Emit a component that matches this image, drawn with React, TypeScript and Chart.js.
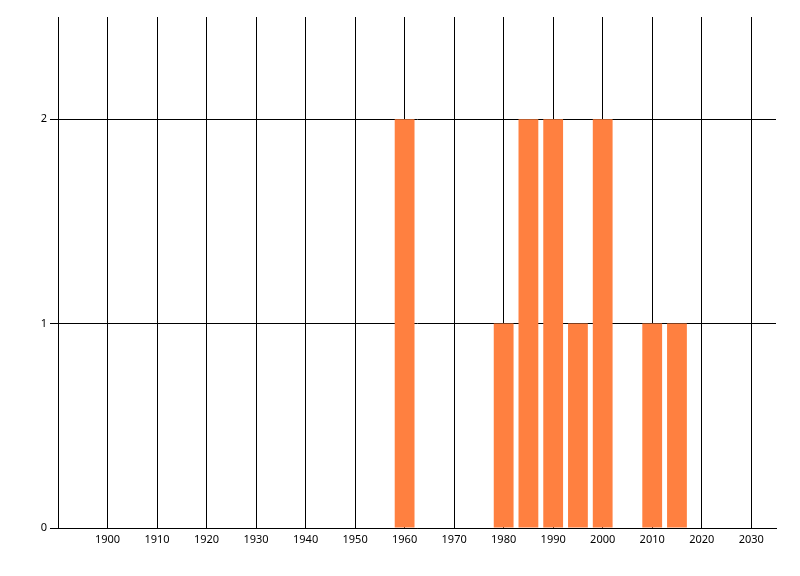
import { useEffect, useRef } from 'react';
import Chart from 'chart.js/auto';

const years = [1960, 1980, 1985, 1990, 1995, 2000, 2010, 2015];
const counts = [2, 1, 2, 2, 1, 2, 1, 1];
const xTicks = [1900, 1910, 1920, 1930, 1940, 1950, 1960, 1970, 1980, 1990, 2000, 2010, 2020, 2030];
const yTicks = [0, 1, 2];

const App = () => {
  const chartRef = useRef<Chart | null>(null);
  const canvasRef = useRef<HTMLCanvasElement | null>(null);

  useEffect(() => {
    if (!canvasRef.current) return;
    if (chartRef.current) chartRef.current.destroy();

    const ctx = canvasRef.current.getContext('2d');
    if (!ctx) return;

    chartRef.current = new Chart(ctx, {
      type: 'bar',
      data: {
        datasets: [
          {
            label: 'Count',
            data: years.map((y, i) => ({ x: y, y: counts[i] })),
            backgroundColor: 'rgb(255, 128, 64)',
            borderWidth: 0,
            barPercentage: 1,
            categoryPercentage: 0.8,
          },
        ],
      },
      options: {
        animation: false,
        responsive: true,
        maintainAspectRatio: false,
        layout: { padding: { left: 0, right: 24, top: 17, bottom: 0 } },
        plugins: {
          legend: { display: false },
          tooltip: { enabled: false },
        },
        scales: {
          x: {
            type: 'linear',
            min: 1890,
            max: 2035,
            offset: false,
            afterBuildTicks: (scale: any) => {
              scale.ticks = xTicks.map((v) => ({ value: v }));
            },
            afterFit: (scale: any) => {
              scale.height = 48;
            },
            grid: {
              offset: false,
              color: '#000',
              lineWidth: 1,
              drawTicks: false,
            },
            border: { display: true, color: '#000', width: 1 },
            ticks: {
              color: '#000',
              padding: 5,
              maxRotation: 0,
              autoSkip: false,
              font: { family: 'Noto Sans', size: 11 },
              callback: (v: any) => String(v),
            },
          },
          y: {
            min: 0,
            max: 2.5,
            afterBuildTicks: (scale: any) => {
              scale.ticks = yTicks.map((v) => ({ value: v }));
            },
            afterFit: (scale: any) => {
              scale.width = 58;
            },
            grid: {
              color: '#000',
              lineWidth: 1,
              drawTicks: true,
              tickLength: 8,
            },
            border: { display: true, color: '#000', width: 1 },
            ticks: {
              color: '#000',
              padding: 3,
              font: { family: 'Noto Sans', size: 11 },
              callback: (v: any) => String(v),
            },
          },
        },
      },
    });

    return () => {
      if (chartRef.current) {
        chartRef.current.destroy();
        chartRef.current = null;
      }
    };
  }, []);

  return (
    <div style={{ position: 'absolute', left: 0, top: 0, width: 800, height: 576, background: '#fff' }}>
      <canvas ref={canvasRef}></canvas>
    </div>
  );
};

export default App;
